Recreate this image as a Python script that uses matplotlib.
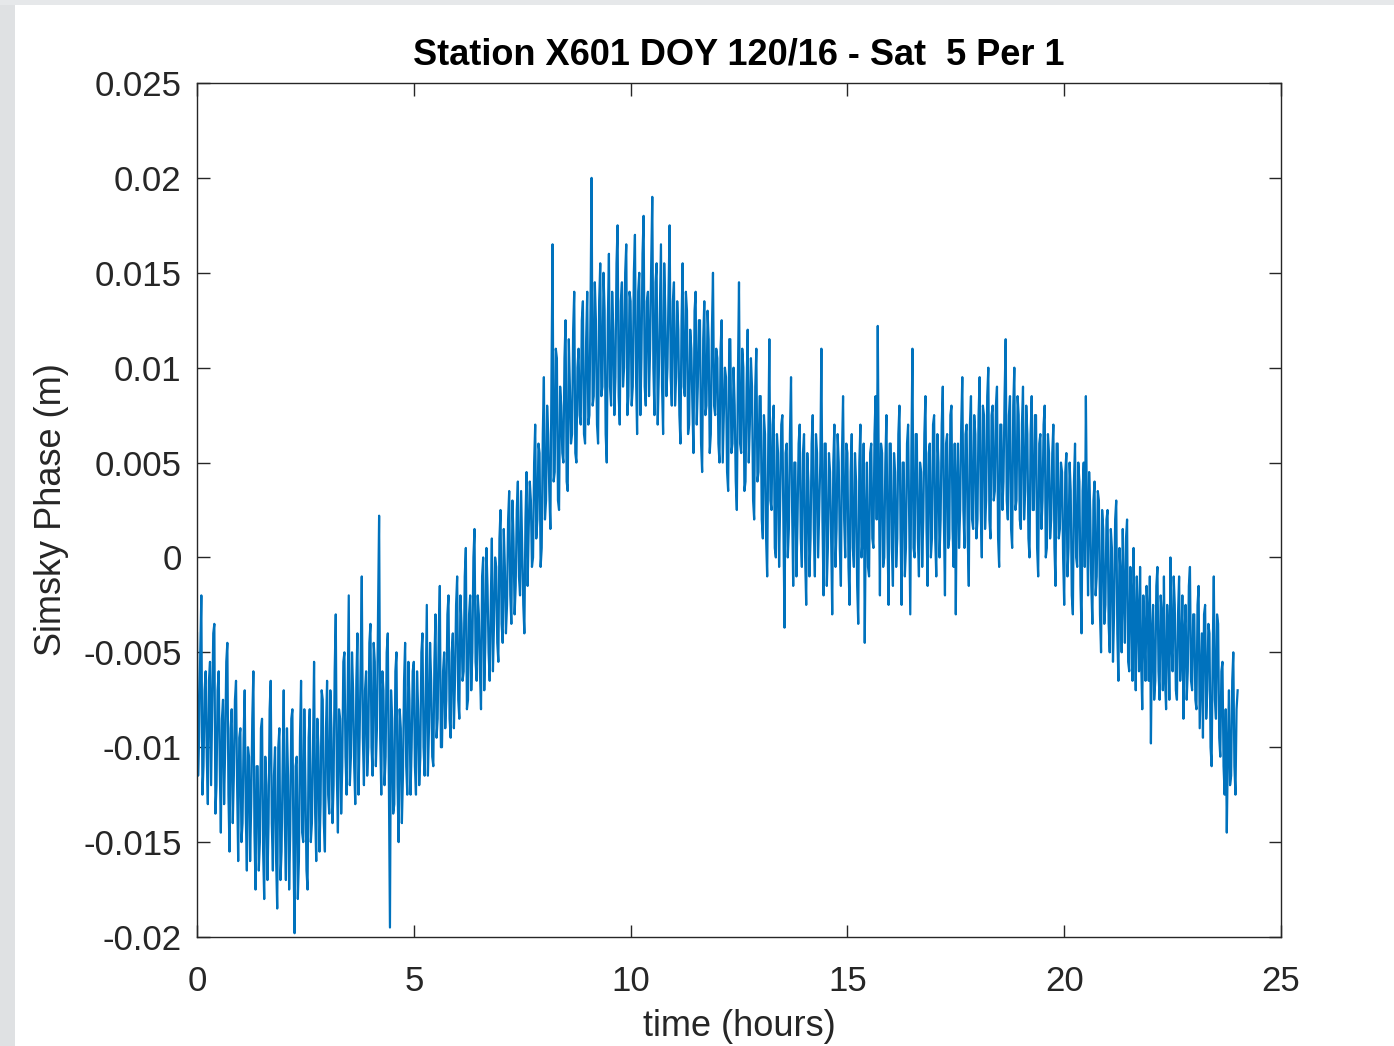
import numpy as np
import matplotlib
matplotlib.use("Agg")
import matplotlib.pyplot as plt
from matplotlib.ticker import FuncFormatter, MultipleLocator
from matplotlib.patches import Rectangle

# phase residuals in mm
# phase_a: samples at 0.00, 0.05, 0.10 ... 24.00 h
phase_a = [
    # 0-1 h
    -4.0, -9.5, -2.0, -11.0, -6.0, -13.0, -5.5, -8.0, -3.5, -12.0,
    -6.0, -14.5, -7.5, -10.0, -4.5, -15.5, -8.0, -11.5, -6.5, -16.0,
    # 1-2 h
    -9.0, -14.0, -7.0, -16.5, -10.5, -13.0, -6.0, -17.5, -11.0, -15.0,
    -8.5, -18.0, -12.0, -14.0, -6.5, -16.5, -10.0, -18.5, -9.0, -15.5,
    # 2-3 h
    -7.0, -17.0, -11.5, -14.5, -8.0, -19.8, -10.5, -16.0, -6.5, -15.0,
    -12.0, -17.5, -8.0, -14.0, -5.5, -16.0, -10.0, -13.0, -7.5, -15.5,
    # 3-4 h
    -6.5, -13.5, -9.0, -12.0, -3.0, -14.5, -8.5, -11.0, -5.0, -12.5,
    -2.0, -10.5, -7.0, -13.0, -4.0, -9.5, -1.0, -12.0, -6.0, -10.0,
    # 4-5 h
    -3.5, -11.5, -5.5, -9.0, 2.2, -12.5, -7.0, -10.5, -4.0, -19.5,
    -8.5, -13.0, -5.0, -15.0, -9.0, -11.5, -4.5, -12.5, -7.5, -10.0,
    # 5-6 h
    -5.5, -12.5, -8.0, -10.5, -4.0, -11.5, -2.5, -9.0, -6.5, -11.0,
    -3.0, -8.5, -1.5, -10.0, -5.0, -7.5, -2.0, -9.5, -4.0, -6.5,
    # 6-7 h
    -1.0, -8.5, -3.5, -6.0, 0.5, -7.5, -2.0, -5.0, 1.5, -6.5,
    -3.0, -8.0, 0.0, -4.5, -1.5, -6.5, 1.0, -3.5, -0.5, -5.5,
    # 7-8 h
    2.5, -4.5, -0.5, -2.5, 3.5, -3.5, 1.0, -1.5, 4.0, -2.0,
    0.5, -4.0, 4.5, 1.5, 3.0, 0.0, 7.0, 2.0, 5.5, 0.5,
    # 8-9 h
    9.5, 3.0, 6.5, 1.5, 16.5, 4.5, 10.5, 2.5, 8.0, 5.0,
    12.5, 3.5, 9.0, 6.5, 14.0, 5.0, 11.0, 7.0, 13.5, 6.0,
    # 9-10 h
    14.0, 7.5, 20.0, 8.5, 12.5, 6.0, 15.5, 9.0, 13.0, 5.0,
    16.0, 8.0, 12.0, 9.5, 17.5, 7.0, 14.5, 10.0, 16.5, 8.5,
    # 10-11 h
    13.5, 9.0, 17.0, 6.5, 15.0, 10.5, 18.0, 8.0, 14.0, 11.0,
    19.0, 7.5, 15.5, 9.5, 16.5, 6.5, 13.0, 10.0, 17.5, 8.0,
    # 11-12 h
    14.5, 9.5, 12.0, 6.0, 15.5, 8.5, 13.0, 7.0, 11.0, 5.5,
    14.0, 9.0, 12.5, 4.5, 13.5, 8.0, 11.5, 6.5, 15.0, 7.5,
    # 12-13 h
    10.5, 5.0, 12.5, 7.5, 9.5, 3.5, 11.5, 6.0, 8.0, 2.5,
    14.5, 5.5, 10.0, 4.0, 12.0, 7.0, 9.0, 2.0, 11.0, 4.5,
    # 13-14 h
    8.5, 1.0, 6.5, -1.0, 11.5, 2.5, 8.0, 0.0, 5.5, 3.0,
    7.5, -3.7, 6.0, 1.5, 9.5, -1.5, 5.0, 2.0, 7.0, -0.5,
    # 14-15 h
    6.5, -2.5, 4.0, 1.0, 7.5, -1.0, 5.5, 2.5, 11.0, -2.0,
    6.0, 0.5, 4.5, -3.0, 7.0, 1.5, 5.0, -1.5, 8.5, 0.0,
    # 15-16 h
    5.5, -2.5, 6.5, -0.5, 4.0, -3.5, 7.0, 1.0, -4.5, 5.0,
    -1.0, 6.0, 0.5, 8.5, 12.2, -2.0, 5.5, 0.0, 7.5, -2.5,
    # 16-17 h
    6.0, -1.5, 4.5, 1.0, 8.0, -2.5, 5.0, 0.5, 7.0, -3.0,
    11.0, 0.0, 6.5, -1.0, 4.5, 2.0, 8.5, -1.5, 6.0, 1.0,
    # 17-18 h
    7.5, -1.0, 5.0, 2.0, 9.0, -2.0, 6.5, 1.0, 8.0, -0.5,
    -3.0, 6.0, 2.5, 9.5, 0.5, 7.0, -1.5, 8.5, 1.5, 6.5,
    # 18-19 h
    2.0, 9.5, 0.0, 7.5, 3.0, 10.0, 1.0, 8.0, 3.5, 9.0,
    -0.5, 7.0, 4.0, 11.5, 2.0, 8.5, 0.5, 10.0, 3.0, 7.5,
    # 19-20 h
    1.5, 9.0, 3.5, 6.5, 0.0, 8.5, 2.5, 7.5, -1.0, 6.5,
    3.0, 8.0, 0.5, 5.5, 2.0, 7.0, -1.5, 6.0, 1.5, 4.5,
    # 20-21 h
    -2.5, 5.5, 0.5, 3.5, -3.0, 6.0, -0.5, 4.0, -4.0, 5.0,
    8.5, -2.0, 2.5, -3.5, 4.0, -1.0, 3.0, -5.0, 1.5, -2.5,
    # 21-22 h
    2.5, -5.0, 0.5, -3.0, 3.0, -6.5, -1.0, 1.5, -4.5, 2.0,
    -6.0, -2.0, 0.5, -7.0, -3.0, -0.5, -8.0, -4.0, -1.5, -6.5,
    # 22-23 h
    -9.8, -2.5, -6.5, -0.5, -7.5, -3.0, -1.0, -8.0, -4.0, 0.0,
    -6.0, -2.5, -7.5, -1.0, -5.0, -8.5, -2.5, -6.0, -0.5, -7.0,
    # 23-24 h
    -3.0, -8.0, -1.5, -6.5, -9.5, -2.5, -7.0, -4.0, -11.0, -1.0,
    -8.5, -3.5, -10.5, -5.5, -12.5, -14.5, -7.0, -11.5, -5.0, -12.5,
    -7.0,
]

# phase_b: samples in between, at 0.025, 0.075 ... 23.975 h
phase_b = [
    # 0-1 h
    -11.5, -5.0, -12.5, -7.0, -10.5, -6.5, -12.0, -4.0, -13.5, -7.0,
    -11.0, -8.5, -13.0, -5.5, -12.5, -9.0, -14.0, -7.5, -12.0, -9.5,
    # 1-2 h
    -15.0, -9.5, -13.5, -10.0, -16.0, -8.5, -14.5, -11.0, -16.5, -9.0,
    -15.5, -10.5, -17.0, -8.0, -14.0, -11.5, -16.0, -10.0, -17.0, -11.0,
    # 2-3 h
    -14.0, -9.0, -17.5, -8.5, -15.5, -11.0, -18.0, -9.5, -14.5, -8.0,
    -16.5, -9.5, -15.0, -10.0, -13.5, -8.5, -15.5, -7.0, -14.0, -9.0,
    # 3-4 h
    -12.5, -7.0, -14.0, -6.0, -11.5, -8.0, -13.5, -5.5, -10.5, -7.5,
    -12.0, -5.0, -11.0, -6.5, -12.5, -5.5, -9.5, -7.0, -11.5, -4.5,
    # 4-5 h
    -10.0, -4.5, -11.0, -3.0, -9.5, -6.0, -12.0, -5.0, -11.5, -7.0,
    -13.5, -6.0, -12.0, -8.0, -14.0, -6.5, -11.0, -5.5, -12.5, -6.0,
    # 5-6 h
    -11.0, -6.0, -12.0, -5.0, -10.0, -7.0, -11.5, -4.5, -10.5, -5.5,
    -9.5, -4.0, -10.0, -6.0, -9.0, -3.0, -8.5, -5.0, -9.0, -2.5,
    # 6-7 h
    -7.5, -2.0, -6.5, -1.0, -8.0, -3.0, -7.0, 0.0, -5.5, -2.0,
    -6.0, -1.0, -7.0, 0.5, -5.0, -2.5, -6.0, 0.0, -4.5, 1.0,
    # 7-8 h
    -3.5, 1.5, -4.0, 2.0, -2.0, 3.0, -3.0, 2.5, -1.0, 3.5,
    -2.5, 2.0, -1.5, 4.0, -0.5, 5.0, 1.0, 6.0, -0.5, 6.5,
    # 8-9 h
    2.0, 8.0, 3.5, 9.5, 4.0, 11.0, 3.0, 9.0, 5.5, 10.5,
    4.0, 11.5, 6.0, 12.0, 5.5, 10.0, 7.5, 12.5, 6.5, 11.5,
    # 9-10 h
    7.0, 13.0, 8.0, 14.5, 7.0, 13.5, 8.5, 15.0, 6.5, 12.5,
    9.0, 14.0, 7.5, 15.5, 8.5, 13.5, 9.0, 15.0, 7.5, 14.0,
    # 10-11 h
    8.0, 15.0, 9.5, 14.0, 7.5, 16.0, 9.0, 13.5, 8.5, 15.5,
    10.0, 14.5, 7.0, 13.0, 9.0, 15.5, 8.5, 14.0, 9.5, 13.5,
    # 11-12 h
    8.0, 13.5, 7.5, 12.5, 9.0, 14.0, 6.5, 12.0, 8.0, 13.0,
    7.0, 12.5, 6.0, 11.5, 7.5, 13.0, 5.5, 12.0, 8.0, 11.0,
    # 12-13 h
    6.0, 11.0, 5.0, 10.0, 4.5, 11.5, 5.5, 10.0, 4.0, 9.5,
    6.0, 11.0, 3.5, 9.0, 5.0, 10.5, 3.0, 9.0, 4.0, 8.5,
    # 13-14 h
    2.0, 7.5, 1.0, 6.0, 3.0, 7.0, 0.5, 6.5, -0.5, 7.0,
    1.5, 5.5, 0.0, 6.5, 2.5, 5.0, -1.0, 6.0, 1.0, 5.5,
    # 14-15 h
    0.0, 5.5, -1.0, 6.0, 1.5, 6.5, 0.0, 5.0, 2.0, 6.0,
    -1.5, 5.5, 1.0, 5.0, -0.5, 6.5, 0.5, 5.5, 2.0, 6.0,
    # 15-16 h
    -0.5, 4.5, 0.5, 5.5, -1.5, 5.0, 0.0, 6.0, 2.0, -0.5,
    5.5, 1.0, 6.5, 2.0, 4.0, 6.0, -0.5, 5.0, 1.0, 6.0,
    # 16-17 h
    0.5, 5.5, -0.5, 6.5, 1.5, 5.0, -1.0, 6.0, 2.0, 5.5,
    0.5, 6.5, 1.0, 5.0, -0.5, 6.5, 1.5, 5.5, 0.0, 7.0,
    # 17-18 h
    1.0, 6.5, 0.0, 7.0, 2.0, 6.0, 0.5, 7.5, 1.5, 6.0,
    4.0, 0.5, 7.0, 2.5, 6.5, 1.0, 7.0, 2.0, 7.5, 1.0,
    # 18-19 h
    7.5, 2.5, 8.0, 1.5, 8.5, 2.0, 7.5, 3.0, 8.0, 1.0,
    7.0, 2.5, 8.5, 3.0, 7.5, 1.5, 8.0, 2.5, 8.5, 2.0,
    # 19-20 h
    7.0, 2.0, 8.0, 1.0, 6.5, 2.5, 7.5, 0.5, 6.0, 1.5,
    7.0, 0.0, 6.5, 1.0, 5.5, 0.5, 6.0, 1.0, 5.0, 0.0,
    # 20-21 h
    4.5, -1.0, 5.0, -2.0, 4.0, 0.0, 5.0, -1.5, 3.5, -0.5,
    2.0, 4.5, -1.5, 3.0, -2.0, 3.5, -3.0, 2.5, -3.5, 2.0,
    # 21-22 h
    -3.5, 1.5, -5.5, 2.0, -4.0, 0.5, -5.0, -2.0, 1.0, -5.5,
    -0.5, -6.5, -3.5, -1.0, -6.0, -5.5, -2.0, -6.5, -3.0, -1.0,
    # 22-23 h
    -4.0, -7.5, -1.5, -6.0, -2.0, -7.0, -6.5, -2.5, -7.5, -4.5,
    -1.0, -7.0, -3.0, -6.5, -2.0, -4.0, -7.5, -1.5, -6.5, -3.0,
    # 23-24 h
    -7.5, -2.5, -9.0, -4.0, -3.0, -8.5, -3.5, -10.0, -5.0, -7.5,
    -3.0, -9.5, -6.0, -11.0, -8.0, -10.0, -12.0, -6.5, -11.0, -8.0,
]

title_txt = "Station X601 DOY 120/16 - Sat  5 Per 1"
x_ticks = [0, 5, 10, 15, 20, 25]

# interleave the two sample sets into one series
a = np.array(phase_a)
b = np.array(phase_b)
phase = np.empty(len(a) + len(b))
phase[0::2] = a
phase[1::2] = b
phase = phase / 1000.0
hours = np.linspace(0, 24, len(phase))

plt.rcParams['font.family'] = ['Liberation Sans', 'DejaVu Sans']

fig = plt.figure(figsize=(13.94, 10.46), dpi=100)
fig.patch.set_facecolor('white')
# grey window frame on the left / top edge of the screenshot
fig.patches.append(Rectangle((0, 0), 15 / 1394, 1, transform=fig.transFigure,
                             facecolor='#dfe1e3', edgecolor='none', zorder=0))
fig.patches.append(Rectangle((0, 1 - 5 / 1046), 1, 5 / 1046, transform=fig.transFigure,
                             facecolor='#e6e8ea', edgecolor='none', zorder=0))

ax = fig.add_axes([197 / 1394, 1 - 937 / 1046, (1281 - 197) / 1394, (937 - 83) / 1046])
ax.plot(hours, phase, color='#0072BD', linewidth=1.6)

ax.set_xlim(0, 25)
ax.set_ylim(-0.02, 0.025)
ax.set_xticks(x_ticks)
ax.yaxis.set_major_locator(MultipleLocator(0.005))
ax.yaxis.set_major_formatter(FuncFormatter(lambda v, p: '%g' % round(v, 4)))

ax.tick_params(direction='in', length=9, width=1, top=True, right=True,
               labelsize=25, colors='#262626')
ax.tick_params(axis='x', pad=20)
ax.tick_params(axis='y', pad=11)
for s in ax.spines.values():
    s.set_color('#262626')
    s.set_linewidth(1.0)

ax.set_title(title_txt, fontsize=26, fontweight='bold', pad=13)
ax.set_xlabel('time (hours)', fontsize=26, color='#262626', labelpad=8)
ax.set_ylabel('Simsky Phase (m)', fontsize=26, color='#262626', labelpad=10)

fig.savefig('out.png', dpi=100)
